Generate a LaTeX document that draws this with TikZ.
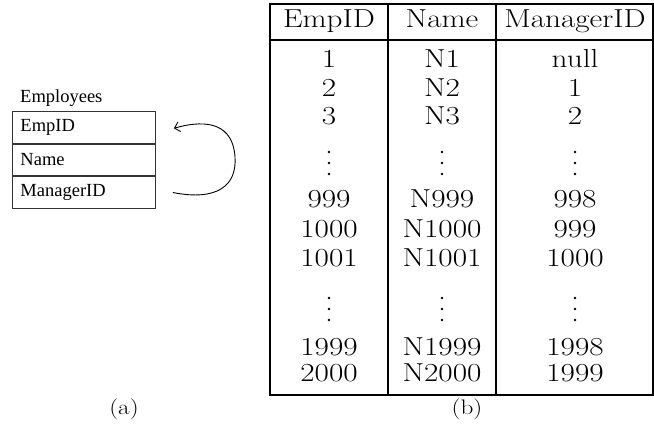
\documentclass[tikz,border=0pt]{standalone}
\usepackage{fontspec}
\newfontfamily\boxfont{Liberation Serif}
\newfontfamily\tabfont[FakeStretch=1.2]{Latin Modern Roman}
\usetikzlibrary{arrows.meta}

\tikzset{
  fieldrow/.style={draw=black!80, line width=0.9pt, minimum height=31.7pt,
    text width=127pt, inner xsep=8pt, inner ysep=0pt, align=left,
    font=\boxfont\fontsize{18.5}{20}\selectfont},
  cell/.style={anchor=base, inner sep=0pt, font=\tabfont\fontsize{26}{30}\selectfont},
  rule/.style={line width=1.6pt, line cap=rect},
  dotmark/.style={fill=black},
  caption/.style={font=\tabfont\fontsize{21}{24}\selectfont},
  selfref/.style={line width=0.9pt, -{Straight Barb[length=5pt,width=10pt]}}
}

\begin{document}
\begin{tikzpicture}[x=1pt, y=-1pt]
\useasboundingbox (0,0) rectangle (654,427);

% ---- (a) the Employees relation with its self-reference ----
\node[anchor=base west, inner sep=0pt, font=\boxfont\fontsize{18.5}{20}\selectfont]
  (title) at (20,103) {Employees};
\node[fieldrow, anchor=north west] (fEmp) at (12,111) {EmpID};
\node[fieldrow, anchor=north] (fName) at (fEmp.south) {Name};
\node[fieldrow, anchor=north] (fMgr) at (fName.south) {ManagerID};

\coordinate (src) at ([xshift=17pt]fMgr.east);
\coordinate (dst) at ([xshift=18pt,yshift=-1pt]fEmp.east);
\draw[selfref] (src) .. controls +(45,9) and +(2,28) .. (235,157)
  .. controls +(-2,-32) and +(35,-10) .. (dst);

\node[caption] (capA) at (124,409) {(a)};

% ---- (b) sample rows of the relation ----
% grid
\draw[rule] (270,4) rectangle (653,395);
\draw[rule] (270,40) -- (653,40);
\draw[rule] (388,4) -- (388,395);
\draw[rule] (496,4) -- (496,395);

% header
\node[cell] (hEmp) at (329,28) {EmpID};
\node[cell] (hName) at (442,28) {Name};
\node[cell] (hMgr) at (575,28) {ManagerID};

% rows
\foreach \y/\e/\n/\m [count=\i] in {
    68/1/N1/null, 97/2/N2/1, 125/3/N3/2,
    208/999/N999/998, 238/1000/N1000/999, 267/1001/N1001/1000,
    356/1999/N1999/1998, 382/2000/N2000/1999} {
  \node[cell] (e\i) at (329,\y) {\e};
  \node[cell] (n\i) at (442,\y) {\n};
  \node[cell] (m\i) at (575,\y) {\m};
}

% vertical ellipses
\foreach \x in {329,442,575} {
  \foreach \y in {152,163,174,298,309,320} {
    \fill[dotmark] (\x,\y) circle (1.4pt);
  }
}

\node[caption] (capB) at (467,409) {(b)};
\end{tikzpicture}
\end{document}
